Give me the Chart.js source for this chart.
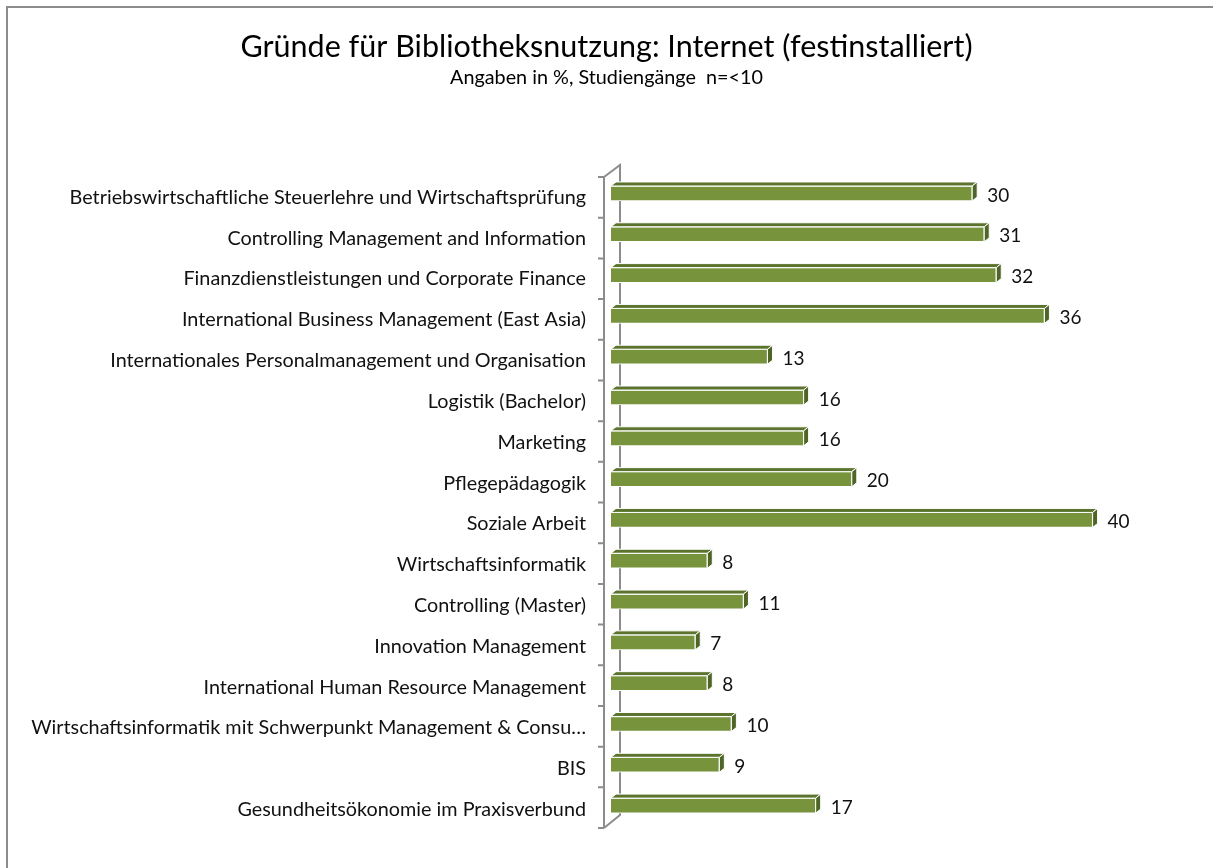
<!DOCTYPE html>
<html>
<head>
<meta charset="utf-8">
<script src="https://cdn.jsdelivr.net/npm/chart.js@4.4.0/dist/chart.umd.min.js"></script>
<style>
  body { margin: 0; background: #fff; }
  #wrap { width: 1213px; height: 868px; position: relative; }
</style>
</head>
<body>
<div id="wrap"><canvas id="chart"></canvas></div>
<script>
// Studiengänge und Anteil "Internet (festinstalliert)" in %
const labels = [
  'Betriebswirtschaftliche Steuerlehre und Wirtschaftsprüfung',
  'Controlling Management and Information',
  'Finanzdienstleistungen und Corporate Finance',
  'International Business Management (East Asia)',
  'Internationales Personalmanagement und Organisation',
  'Logistik (Bachelor)',
  'Marketing',
  'Pflegepädagogik',
  'Soziale Arbeit',
  'Wirtschaftsinformatik',
  'Controlling (Master)',
  'Innovation Management',
  'International Human Resource Management',
  'Wirtschaftsinformatik mit Schwerpunkt Management & Consu…',
  'BIS',
  'Gesundheitsökonomie im Praxisverbund'
];
const values = [30, 31, 32, 36, 13, 16, 16, 20, 40, 8, 11, 7, 8, 10, 9, 17];
const xMax = 50;

const FONT = 'Lato, Calibri, sans-serif';
const FRONT = '#77933C';
const TOP = '#5b732d';
const SIDE = '#4f6527';
const WALL = '#8c8c8c';
const DX = 5, DY = 4; // bar depth

// outer frame (only left/top edge visible) and the 3d axis wall
const wallPlugin = {
  id: 'wall',
  beforeDraw(chart) {
    const ctx = chart.ctx;
    ctx.save();
    ctx.strokeStyle = WALL;
    ctx.lineWidth = 2;
    ctx.beginPath();
    ctx.moveTo(7, chart.height);
    ctx.lineTo(7, 7);
    ctx.lineTo(chart.width, 7);
    ctx.stroke();
    ctx.restore();
  },
  beforeDatasetsDraw(chart) {
    const { ctx, chartArea: a } = chart;
    const fx = a.left - 7, bx = a.left + 9;
    const fTop = a.top + 4, fBot = a.bottom + 2;
    const bTop = a.top - 8, bBot = a.bottom - 11;
    ctx.save();
    ctx.strokeStyle = WALL;
    ctx.lineWidth = 2;
    ctx.beginPath();
    ctx.moveTo(fx, fTop); ctx.lineTo(fx, fBot);
    ctx.moveTo(fx, fTop); ctx.lineTo(bx, bTop); ctx.lineTo(bx, bBot); ctx.lineTo(fx, fBot);
    const n = labels.length;
    for (let i = 0; i <= n; i++) {
      const y = fTop + (fBot - fTop) * i / n;
      ctx.moveTo(fx - 6, y); ctx.lineTo(fx, y);
    }
    ctx.stroke();
    ctx.restore();
  }
};

// top and side faces of each bar plus value labels
const barDepthPlugin = {
  id: 'barDepth',
  afterDatasetsDraw(chart) {
    const ctx = chart.ctx;
    const meta = chart.getDatasetMeta(0);
    ctx.save();
    ctx.strokeStyle = '#ffffff';
    ctx.lineWidth = 1;
    meta.data.forEach((bar, i) => {
      const { x, y, base, height } = bar.getProps(['x', 'y', 'base', 'height'], true);
      const t = y - height / 2, b = y + height / 2;
      ctx.fillStyle = TOP;
      ctx.beginPath();
      ctx.moveTo(base, t); ctx.lineTo(x, t); ctx.lineTo(x + DX, t - DY); ctx.lineTo(base + DX, t - DY);
      ctx.closePath(); ctx.fill(); ctx.stroke();
      ctx.fillStyle = SIDE;
      ctx.beginPath();
      ctx.moveTo(x, t); ctx.lineTo(x + DX, t - DY); ctx.lineTo(x + DX, b - DY); ctx.lineTo(x, b);
      ctx.closePath(); ctx.fill(); ctx.stroke();

      ctx.fillStyle = '#111';
      ctx.font = '19px ' + FONT;
      ctx.textAlign = 'left';
      ctx.textBaseline = 'middle';
      ctx.fillText(String(values[i]), x + DX + 10, y + 2);
    });
    ctx.restore();
  }
};

new Chart(document.getElementById('chart'), {
  type: 'bar',
  data: {
    labels: labels,
    datasets: [{
      data: values,
      backgroundColor: FRONT,
      borderColor: '#ffffff',
      borderWidth: 1,
      barThickness: 15
    }]
  },
  options: {
    indexAxis: 'y',
    responsive: true,
    maintainAspectRatio: false,
    animation: false,
    layout: { padding: { top: 0, right: 0, bottom: 42, left: 0 } },
    scales: {
      x: { display: false, min: 0, max: xMax },
      y: {
        grid: { display: false },
        border: { display: false },
        ticks: {
          color: '#111',
          font: { family: FONT, size: 19.8 },
          padding: 17,
          labelOffset: 4,
          autoSkip: false
        },
        afterFit(scale) { scale.width = 611; }
      }
    },
    plugins: {
      legend: { display: false },
      tooltip: { enabled: false },
      title: {
        display: true,
        text: 'Gründe für Bibliotheksnutzung: Internet (festinstalliert)',
        color: '#000',
        font: { family: FONT, size: 30.5, weight: 'normal' },
        padding: { top: 28.7, bottom: 0 }
      },
      subtitle: {
        display: true,
        text: 'Angaben in %, Studiengänge  n=<10',
        color: '#000',
        font: { family: FONT, size: 19.8, weight: 'normal' },
        padding: { top: 0, bottom: 84 }
      }
    }
  },
  plugins: [wallPlugin, barDepthPlugin]
});
</script>
</body>
</html>
